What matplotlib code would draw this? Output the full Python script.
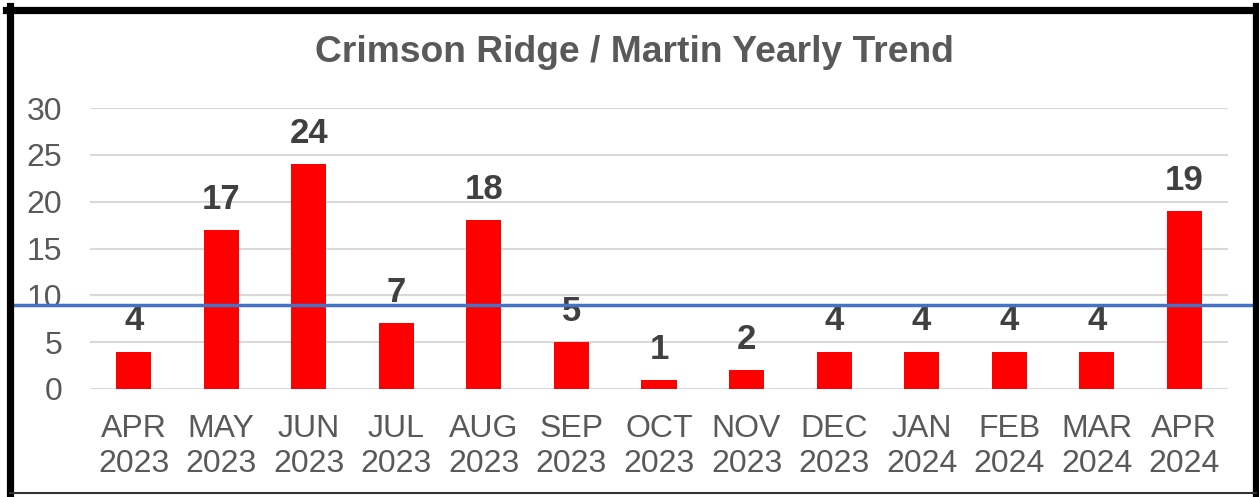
import matplotlib.pyplot as plt
from matplotlib.lines import Line2D

plt.rcParams['font.family'] = ['Liberation Sans', 'DejaVu Sans']

months = ["APR\n2023", "MAY\n2023", "JUN\n2023", "JUL\n2023", "AUG\n2023", "SEP\n2023", "OCT\n2023",
          "NOV\n2023", "DEC\n2023", "JAN\n2024", "FEB\n2024", "MAR\n2024", "APR\n2024"]
counts = [4, 17, 24, 7, 18, 5, 1, 2, 4, 4, 4, 4, 19]
target = 9

W, H = 1259, 497
fig = plt.figure(figsize=(W / 100, H / 100), dpi=100)
ax = fig.add_axes([90 / W, 1 - 389 / H, (1228 - 90) / W, (389 - 108) / H])

x = range(len(counts))
bars = ax.bar(x, counts, width=0.4, color='#ff0000', zorder=3)
for xi, v in zip(x, counts):
    ax.text(xi, v + 1.5, str(v), ha='center', va='bottom', fontsize=25, fontweight='bold', color='#404040')

ax.set_xlim(-0.5, len(counts) - 0.5)
ax.set_ylim(0, 30)
ax.set_yticks(range(0, 31, 5))
ax.set_xticks(list(x))
ax.set_xticklabels(months, fontsize=23, color='#595959', linespacing=1.22)
ax.tick_params(axis='y', labelsize=23, labelcolor='#595959', length=0, pad=20)
ax.tick_params(axis='x', length=0, pad=18)
ax.grid(axis='y', color='#d9d9d9', linewidth=1.5, zorder=0)
for s in ax.spines.values():
    s.set_visible(False)

# horizontal target line across the whole figure
ax.axhline(target, xmin=-78 / 1138, xmax=1 + 28 / 1138, color='#4472c4', linewidth=2.5, zorder=4, clip_on=False)

fig.text(634 / W, 1 - 52 / H, "Crimson Ridge / Martin Yearly Trend", ha='center', va='center',
         fontsize=26.8, fontweight='bold', color='#595959')

# frame
fig.add_artist(Line2D([10 / W, 10 / W], [0, 1 - 6 / H], color='black', linewidth=5.2))
fig.add_artist(Line2D([6 / W, 1], [1 - 9.5 / H, 1 - 9.5 / H], color='black', linewidth=5.2))
fig.add_artist(Line2D([1256 / W, 1256 / W], [0, 1 - 6 / H], color='black', linewidth=4.5))
fig.add_artist(Line2D([10 / W, 1256 / W], [1 - 493 / H, 1 - 493 / H], color='#333333', linewidth=1.5))

fig.savefig('out.png', dpi=100)
